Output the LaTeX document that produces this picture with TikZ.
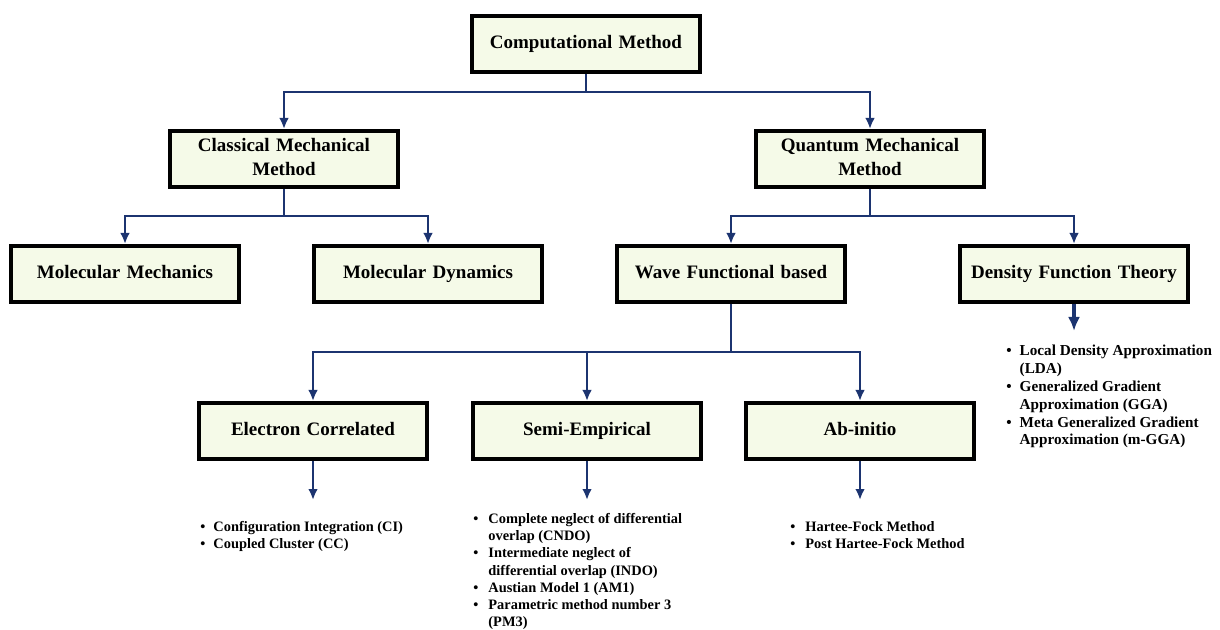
\documentclass[tikz,border=0pt]{standalone}
\usepackage{fontspec}
\setmainfont{Liberation Serif}
\usetikzlibrary{arrows.meta}

\definecolor{boxfill}{RGB}{245,250,232}
\definecolor{navy}{RGB}{28,52,112}

\tikzstyle{main}  = [draw=black, line width=2pt, fill=boxfill, inner sep=0pt, text centered, font=\fontsize{9.5}{11.7}\selectfont\bfseries, execute at begin node=\strut, execute at end node=\strut]
\tikzstyle{boxA}  = [main, minimum width=114pt, minimum height=28pt, text width=108pt]
\tikzstyle{conn}  = [draw=navy, line width=1.1pt, -{Latex[length=5.5pt,width=4.8pt]}]
\tikzstyle{connB} = [draw=navy, line width=2pt, -{Latex[length=7pt,width=6pt]}]
\tikzstyle{blist} = [anchor=north west, inner sep=0pt, font=\fontsize{7.2}{8.6}\selectfont\bfseries]

\newcommand{\itm}[1]{\textbullet & #1\\}
\newcommand{\itc}[1]{ & #1\\}

\begin{document}
\begin{tikzpicture}[x=0.5pt, y=-0.5pt]
  \useasboundingbox (0,0) rectangle (1220,630);

  % boxes
  \node[boxA] (comp) at (586, 44)  {Computational Method};
  \node[boxA] (cmm)  at (284, 159) {Classical Mechanical\\Method};
  \node[boxA] (qmm)  at (870, 159) {Quantum Mechanical\\Method};
  \node[boxA] (mm)   at (125, 274) {Molecular Mechanics};
  \node[boxA] (md)   at (428, 274) {Molecular Dynamics};
  \node[boxA] (wfb)  at (731, 274) {Wave Functional based};
  \node[boxA] (dft)  at (1074, 274) {Density Function Theory};
  \node[boxA] (ec)   at (313, 431) {Electron Correlated};
  \node[boxA] (se)   at (587, 431) {Semi-Empirical};
  \node[boxA] (ai)   at (860, 431) {Ab-initio};

  % connectors
  \draw[conn] (comp.south) -- ++(0,18) -| (cmm.north);
  \draw[conn] (comp.south) -- ++(0,18) -| (qmm.north);
  \draw[conn] (cmm.south) -- ++(0,27) -| (mm.north);
  \draw[conn] (cmm.south) -- ++(0,27) -| (md.north);
  \draw[conn] (qmm.south) -- ++(0,27) -| (wfb.north);
  \draw[conn] (qmm.south) -- ++(0,27) -| (dft.north);
  \draw[conn] (wfb.south) -- ++(0,48) -| (ec.north);
  \draw[conn] (wfb.south) -- ++(0,48) -| (ai.north);
  \draw[conn] (wfb.south) -- ++(0,48) -| (se.north);
  \draw[conn] (ec.south) -- ++(0,39);
  \draw[conn] (se.south) -- ++(0,39);
  \draw[conn] (ai.south) -- ++(0,39);
  \draw[connB] (dft.south) -- ++(0,27);

  % lists
  \node[blist] (ecl) at (200, 519) {\begin{tabular}{@{}l@{\hspace{4pt}}l@{}}
      \itm{Configuration Integration (CI)}
      \itm{Coupled Cluster (CC)}
    \end{tabular}};
  \node[blist] (sel) at (473, 511) {\begin{tabular}{@{}l@{\hspace{5pt}}l@{}}
      \itm{Complete neglect of differential}
      \itc{overlap (CNDO)}
      \itm{Intermediate neglect of}
      \itc{differential overlap (INDO)}
      \itm{Austian Model 1 (AM1)}
      \itm{Parametric method number 3}
      \itc{(PM3)}
    \end{tabular}};
  \node[blist] (ail) at (790, 519) {\begin{tabular}{@{}l@{\hspace{5pt}}l@{}}
      \itm{Hartee-Fock Method}
      \itm{Post Hartee-Fock Method}
    \end{tabular}};
  \node[blist, font=\fontsize{7.6}{8.9}\selectfont\bfseries] (dftl) at (1006, 343) {\begin{tabular}{@{}l@{\hspace{4pt}}l@{}}
      \itm{Local Density Approximation}
      \itc{(LDA)}
      \itm{Generalized Gradient}
      \itc{Approximation (GGA)}
      \itm{Meta Generalized Gradient}
      \itc{Approximation (m-GGA)}
    \end{tabular}};
\end{tikzpicture}
\end{document}
